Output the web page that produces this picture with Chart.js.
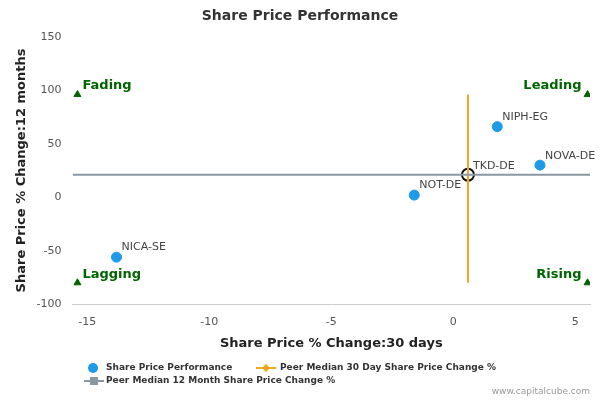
<!DOCTYPE html>
<html><head><script src="https://cdn.jsdelivr.net/npm/chart.js@4"></script>
<style>body{margin:0;background:#fff}</style></head>
<body><canvas id="c" width="600" height="400"></canvas>
<script>
const names=["NICA-SE","NOT-DE","NIPH-EG","NOVA-DE"];
const x30=[-13.8,-1.6,1.8,3.55];
const y12=[-56,2,66,30];
const subject={name:"TKD-DE",x:0.6,y:21};
const medianX=0.6, medianY=21;
const quadrants=[{t:"Fading",x:-15.4,y:96},{t:"Leading",x:5.5,y:96},{t:"Lagging",x:-15.4,y:-80},{t:"Rising",x:5.5,y:-80}];
const xMin=-15.6,xMax=5.6,yMin=-100,yMax=150;
const xTicks=[-15,-10,-5,0,5], yTicks=[-100,-50,0,50,100,150];

const labelPlugin={id:"lbl",afterDatasetsDraw(ch){
 const c=ch.ctx,xs=ch.scales.x,ys=ch.scales.y;
 c.save();c.font="11px 'DejaVu Sans'";c.fillStyle="#444";c.textBaseline="bottom";
 names.forEach((n,i)=>c.fillText(n,xs.getPixelForValue(x30[i])+5,ys.getPixelForValue(y12[i])-4));
 c.fillText(subject.name,xs.getPixelForValue(subject.x)+5,ys.getPixelForValue(subject.y)-3);
 c.font="bold 13px 'DejaVu Sans'";c.fillStyle="#006400";
 quadrants.forEach((q,i)=>{const px=xs.getPixelForValue(q.x),py=ys.getPixelForValue(q.y);
  c.textAlign=i%2?"right":"left";c.fillText(q.t,px+(i%2?-6:5),py-2);});
 c.textAlign="left";c.textBaseline="middle";c.font="bold 9px 'DejaVu Sans'";
 c.fillStyle="#1e9be8";c.beginPath();c.arc(93,368,5,0,7);c.fill();
 c.fillStyle="#333";c.fillText("Share Price Performance",106,368);
 c.strokeStyle="#f5a623";c.lineWidth=2;c.beginPath();c.moveTo(256,368);c.lineTo(276,368);c.stroke();
 c.fillStyle="#f5a623";c.beginPath();c.moveTo(266,364);c.lineTo(270,368);c.lineTo(266,372);c.lineTo(262,368);c.fill();
 c.fillStyle="#333";c.fillText("Peer Median 30 Day Share Price Change %",280,368);
 c.strokeStyle="#8a97a5";c.beginPath();c.moveTo(84,381);c.lineTo(104,381);c.stroke();
 c.fillStyle="#8a97a5";c.fillRect(90,377,8,8);
 c.fillStyle="#333";c.fillText("Peer Median 12 Month Share Price Change %",106,381);
 c.font="9px 'DejaVu Sans'";c.fillStyle="#999";c.textAlign="right";c.fillText("www.capitalcube.com",590,392);
 c.restore();}};

new Chart(document.getElementById("c"),{type:"scatter",
 data:{datasets:[
  {data:[{x:xMin,y:medianY},{x:xMax,y:medianY}],showLine:true,borderColor:"#8a97a5",borderWidth:2,pointRadius:0},
  {data:[{x:medianX,y:96},{x:medianX,y:-80}],showLine:true,borderColor:"#f5a623",borderWidth:2,pointRadius:0},
  {data:x30.map((v,i)=>({x:v,y:y12[i]})),backgroundColor:"#1e9be8",borderColor:"#1e9be8",pointRadius:5},
  {data:[{x:subject.x,y:subject.y}],backgroundColor:"rgba(0,0,0,0)",borderColor:"#111",borderWidth:2,pointRadius:6},
  {data:quadrants.map(q=>({x:q.x,y:q.y})),pointStyle:"triangle",backgroundColor:"#006400",borderColor:"#006400",pointRadius:4}
 ]},
 options:{responsive:false,animation:false,
  layout:{padding:{left:10,right:10,top:0,bottom:45}},
  plugins:{legend:{display:false},tooltip:{enabled:false},
   title:{display:true,text:"Share Price Performance",color:"#333",font:{family:"DejaVu Sans",size:14},padding:{top:8,bottom:12}}},
  scales:{
   x:{type:"linear",min:xMin,max:xMax,afterBuildTicks:a=>{a.ticks=xTicks.map(v=>({value:v}))},
    grid:{display:false},border:{color:"#ccc"},ticks:{color:"#555",font:{family:"DejaVu Sans",size:11}},
    title:{display:true,text:"Share Price % Change:30 days",color:"#222",font:{family:"DejaVu Sans",size:13,weight:"bold"}}},
   y:{min:yMin,max:yMax,afterBuildTicks:a=>{a.ticks=yTicks.map(v=>({value:v}))},
    grid:{display:false},border:{display:false},ticks:{color:"#555",font:{family:"DejaVu Sans",size:11}},
    title:{display:true,text:"Share Price % Change:12 months",color:"#222",font:{family:"DejaVu Sans",size:13,weight:"bold"}}}}},
 plugins:[labelPlugin]});
</script></body></html>
